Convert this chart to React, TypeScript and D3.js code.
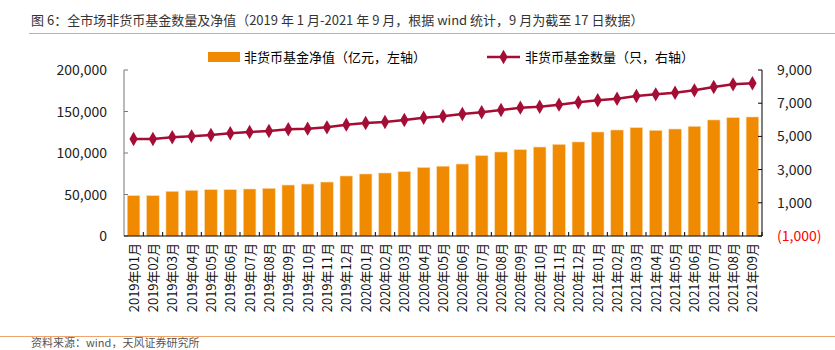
import * as d3 from 'd3';

const months = [
  '2019年01月', '2019年02月', '2019年03月', '2019年04月', '2019年05月', '2019年06月',
  '2019年07月', '2019年08月', '2019年09月', '2019年10月', '2019年11月', '2019年12月',
  '2020年01月', '2020年02月', '2020年03月', '2020年04月', '2020年05月', '2020年06月',
  '2020年07月', '2020年08月', '2020年09月', '2020年10月', '2020年11月', '2020年12月',
  '2021年01月', '2021年02月', '2021年03月', '2021年04月', '2021年05月', '2021年06月',
  '2021年07月', '2021年08月', '2021年09月',
];

// 非货币基金净值（亿元）
const netValue = [
  48600, 48600, 53800, 55000, 55800, 55800, 56600, 57400, 61400, 62600, 65000, 72300,
  74700, 75900, 77500, 82500, 84100, 86700, 96800, 101200, 104000, 107200, 110400, 113300,
  125300, 127700, 130500, 127300, 128900, 132100, 139800, 142600, 143400,
];

// 非货币基金数量（只）
const fundCount = [
  4843, 4843, 4944, 5004, 5084, 5185, 5265, 5325, 5426, 5466, 5546, 5707,
  5807, 5867, 5988, 6128, 6209, 6349, 6450, 6590, 6731, 6791, 6912, 7052,
  7173, 7273, 7434, 7534, 7634, 7775, 7976, 8136, 8197,
];

const leftTicks = [0, 50000, 100000, 150000, 200000];
const rightTicks = [-1000, 1000, 3000, 5000, 7000, 9000];

const title = '图 6：全市场非货币基金数量及净值（2019 年 1 月-2021 年 9 月，根据 wind 统计，9 月为截至 17 日数据）';
const source = '资料来源：wind，天风证券研究所';
const legendBar = '非货币基金净值（亿元，左轴）';
const legendLine = '非货币基金数量（只，右轴）';

const W = 835;
const H = 350;
const plot = { left: 124, right: 762, top: 70, bottom: 236 };
const barColor = '#F08A00';
const lineColor = '#A50D35';
const font = '"Noto Sans CJK SC", "Noto Sans", sans-serif';

export default function App() {
  const x = d3.scaleBand<string>().domain(months).range([plot.left, plot.right]).paddingInner(0.35).paddingOuter(0.17);
  const yL = d3.scaleLinear().domain([0, 200000]).range([plot.bottom, plot.top]);
  const yR = d3.scaleLinear().domain([-1000, 9000]).range([plot.bottom, plot.top]);
  const fmt = d3.format(',');
  const step = (plot.right - plot.left) / months.length;

  const line = d3.line<number>()
    .x((_, i) => (x(months[i]) as number) + x.bandwidth() / 2)
    .y(d => yR(d));

  const diamond = d3.symbol().type(d3.symbolDiamond).size(60)();

  return (
    <svg width={W} height={H} style={{ position: 'absolute', left: 0, top: 0, fontFamily: font }}>
      <rect width={W} height={H} fill="#fff" />
      <text x={31} y={25} fontSize={13} fill="#333">{title}</text>
      <line x1={29} x2={W} y1={33.5} y2={33.5} stroke="#EFA46B" strokeWidth={1} />

      {/* legend */}
      <rect x={208} y={52} width={32} height={10} fill={barColor} />
      <text x={244} y={62} fontSize={13} fill="#000">{legendBar}</text>
      <line x1={487} x2={520} y1={57} y2={57} stroke={lineColor} strokeWidth={2.5} />
      <path d={diamond as string} transform="translate(503.5,57)" fill={lineColor} />
      <text x={525} y={62} fontSize={13} fill="#000">{legendLine}</text>

      {/* bars */}
      {netValue.map((v, i) => (
        <rect key={months[i]} x={x(months[i])} y={yL(v)} width={x.bandwidth()} height={plot.bottom - yL(v)}
          fill={barColor} stroke="#F8D7A8" strokeWidth={0.6} />
      ))}

      {/* left axis */}
      <line x1={plot.left} x2={plot.left} y1={plot.top} y2={plot.bottom} stroke="#777" />
      {leftTicks.map(t => (
        <g key={t}>
          <line x1={plot.left} x2={plot.left + 4} y1={yL(t)} y2={yL(t)} stroke="#777" />
          <text x={107} y={yL(t) + 5} textAnchor="end" fontSize={14} fill="#222">{fmt(t)}</text>
        </g>
      ))}

      {/* right axis */}
      <line x1={plot.right} x2={plot.right} y1={plot.top} y2={plot.bottom} stroke="#000" />
      {rightTicks.map(t => (
        <g key={t}>
          <line x1={plot.right - 4} x2={plot.right} y1={yR(t)} y2={yR(t)} stroke="#000" />
          <text x={777} y={yR(t) + 5} fontSize={14} fill={t < 0 ? '#FF0000' : '#222'}>
            {t < 0 ? `(${fmt(-t)})` : fmt(t)}
          </text>
        </g>
      ))}

      {/* x axis */}
      <line x1={plot.left} x2={plot.right} y1={plot.bottom} y2={plot.bottom} stroke="#000" />
      {months.map((m, i) => (
        <g key={m}>
          <line x1={plot.left + step * (i + 1)} x2={plot.left + step * (i + 1)} y1={plot.bottom - 4} y2={plot.bottom} stroke="#000" />
          <text transform={`translate(${(x(m) as number) + x.bandwidth() / 2 + 5},${plot.bottom + 7}) rotate(-90)`}
            textAnchor="end" fontSize={13} fill="#111">{m}</text>
        </g>
      ))}

      {/* line series */}
      <path d={line(fundCount) as string} fill="none" stroke={lineColor} strokeWidth={2.5} />
      {fundCount.map((v, i) => (
        <path key={months[i]} d={diamond as string}
          transform={`translate(${(x(months[i]) as number) + x.bandwidth() / 2},${yR(v)})`} fill={lineColor} />
      ))}

      <line x1={0} x2={W} y1={336.5} y2={336.5} stroke="#EFA46B" strokeWidth={1} />
      <text x={31} y={347} fontSize={11} fill="#555">{source}</text>
    </svg>
  );
}
